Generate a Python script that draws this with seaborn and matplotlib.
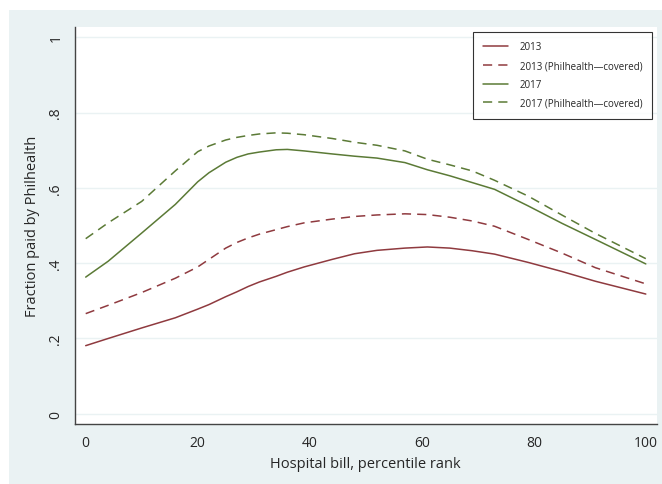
import numpy as np
import pandas as pd
import seaborn as sns
import matplotlib.pyplot as plt
from matplotlib.patches import Rectangle

# percentile rank of hospital bill
pct = [0, 4, 10, 16, 20, 22, 25, 27, 29, 31, 34, 36, 39, 44, 48, 52, 57, 61, 65, 69, 73,
       79, 85, 91, 100]

# fraction paid by Philhealth
y2013 = [0.181, 0.200, 0.228, 0.255, 0.278, 0.290, 0.311, 0.324, 0.338, 0.350, 0.365,
         0.376, 0.390, 0.410, 0.425, 0.434, 0.440, 0.443, 0.440, 0.433, 0.424, 0.402,
         0.378, 0.352, 0.318]
y2013_cov = [0.266, 0.288, 0.322, 0.360, 0.390, 0.410, 0.440, 0.455, 0.467, 0.477, 0.489,
             0.497, 0.507, 0.517, 0.524, 0.528, 0.531, 0.529, 0.522, 0.512, 0.498, 0.463,
             0.427, 0.388, 0.345]
y2017 = [0.363, 0.405, 0.480, 0.556, 0.616, 0.640, 0.668, 0.681, 0.690, 0.695, 0.701,
         0.702, 0.698, 0.690, 0.684, 0.679, 0.667, 0.648, 0.632, 0.614, 0.596, 0.552,
         0.506, 0.463, 0.398]
y2017_cov = [0.465, 0.507, 0.564, 0.645, 0.696, 0.711, 0.727, 0.734, 0.739, 0.743, 0.746,
             0.745, 0.741, 0.731, 0.721, 0.713, 0.698, 0.676, 0.661, 0.645, 0.620, 0.578,
             0.528, 0.479, 0.412]

labels = ['2013', '2013 (Philhealth\u2014covered)', '2017', '2017 (Philhealth\u2014covered)']
xticks = [0, 20, 40, 60, 80, 100]
yticks = [0, 0.2, 0.4, 0.6, 0.8, 1]
ytick_labels = ['0', '.2', '.4', '.6', '.8', '1']

maroon = '#8f3a3f'
green = '#5b7a36'
bg = '#eaf2f3'

sns.set_style('white')
plt.rcParams['font.family'] = ['Open Sans', 'DejaVu Sans']

fig = plt.figure(figsize=(6.62, 4.85), dpi=100, facecolor='white')
fig.patches.append(Rectangle((9 / 662, 0), 1, 1 - 11 / 485, transform=fig.transFigure,
                             facecolor=bg, edgecolor='none', zorder=-10))
ax = fig.add_axes([74.5 / 662, 60 / 485, (657 - 74.5) / 662, (425 - 28) / 485])
ax.set_facecolor('white')

series = [(y2013, maroon, '-'), (y2013_cov, maroon, (0, (6, 4))),
          (y2017, green, '-'), (y2017_cov, green, (0, (6, 4)))]
for (vals, col, ls), lab in zip(series, labels):
    sns.lineplot(x=pct, y=vals, color=col, linestyle=ls, linewidth=1.1, label=lab, ax=ax)

ax.set_xlim(-2, 102)
ax.set_ylim(-0.027, 1.027)
ax.set_xticks(xticks)
ax.set_yticks(yticks)
ax.set_yticklabels(ytick_labels, rotation=90, va='center')
ax.tick_params(axis='both', direction='out', length=5, width=0.8, color='#333333',
               labelsize=10, pad=3)
ax.yaxis.grid(True, color=bg, linewidth=1)
ax.set_axisbelow(True)
for s in ['top', 'right']:
    ax.spines[s].set_visible(False)
for s in ['left', 'bottom']:
    ax.spines[s].set_color('#444444')
    ax.spines[s].set_linewidth(1)

ax.set_xlabel('Hospital bill, percentile rank', fontsize=10.5, labelpad=4)
ax.set_ylabel('Fraction paid by Philhealth', fontsize=10.5, labelpad=6)

leg = ax.legend(loc='upper right', bbox_to_anchor=(0.992, 0.988), fontsize=7,
                frameon=True, fancybox=False, borderpad=1.0, labelspacing=0.8,
                handlelength=2.6, handletextpad=1.2, borderaxespad=0)
leg.get_frame().set_edgecolor('black')
leg.get_frame().set_linewidth(0.8)

fig.savefig('out.png', dpi=100, facecolor='white')
